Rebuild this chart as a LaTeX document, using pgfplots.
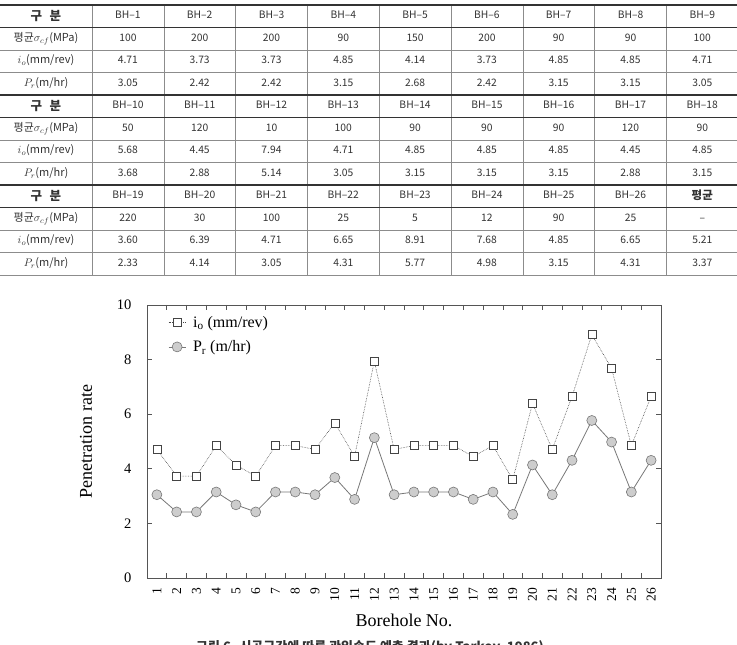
\documentclass[border=0pt]{standalone}
\usepackage{pgfplots}
\pgfplotsset{compat=1.18}
\usepackage{fontspec}
\setmainfont{Liberation Serif}
\newfontfamily\kr{Noto Sans CJK KR}
\definecolor{tabline}{HTML}{8C8C8C}
\definecolor{tabrule}{HTML}{333333}
\definecolor{tabtext}{HTML}{333333}
\definecolor{framecol}{HTML}{555555}
\definecolor{sqedge}{HTML}{444444}
\definecolor{circfill}{HTML}{CDCDCD}
\definecolor{circedge}{HTML}{777777}

\tikzset{cell/.style={text=tabtext, text height=8pt, text depth=2.5pt, inner sep=0pt}}

% one table row: #1 row index (0 = top), #2 label, #3 nine cell entries
\newcommand{\tabrow}[3]{%
  \node[cell, font=\kr\fontsize{11}{13}\selectfont] at (46pt,{(640-22.5*(#1+0.5))*1pt}) {#2};
  \foreach \v [count=\j] in {#3} {
    \node[cell, font=\kr\fontsize{10.3}{12}\selectfont] at ({(92+71.8*\j-35.9)*1pt},{(640-22.5*(#1+0.5))*1pt}) {\v};
  }%
}
\newcommand{\hd}{\raisebox{-1.2pt}{\fontsize{12.5}{13}\selectfont\bfseries 구\hspace{0.6em}분}}

\begin{document}
\begin{tikzpicture}
\useasboundingbox (0pt,0pt) rectangle (737pt,645pt);

% ---- table grid ----
\foreach \m in {0,...,8}
  \draw[tabline, line width=0.5pt] ({(92+71.8*\m)*1pt},640pt) -- ({(92+71.8*\m)*1pt},370pt);
\foreach \k in {2,3,6,7,10,11,12}
  \draw[tabline, line width=0.5pt] (0pt,{(640-22.5*\k)*1pt}) -- (737pt,{(640-22.5*\k)*1pt});
\foreach \k in {0,1,4,5,8,9}
  \draw[tabrule, line width=1.3pt] (0pt,{(640-22.5*\k)*1pt}) -- (737pt,{(640-22.5*\k)*1pt});

% ---- table text ----
\tabrow{0}{\hd}{BH–1,BH–2,BH–3,BH–4,BH–5,BH–6,BH–7,BH–8,BH–9}
\tabrow{1}{평균$\sigma_{cf}$(MPa)}{100,200,200,90,150,200,90,90,100}
\tabrow{2}{$i_o$(mm/rev)}{4.71,3.73,3.73,4.85,4.14,3.73,4.85,4.85,4.71}
\tabrow{3}{$P_r$(m/hr)}{3.05,2.42,2.42,3.15,2.68,2.42,3.15,3.15,3.05}
\tabrow{4}{\hd}{BH–10,BH–11,BH–12,BH–13,BH–14,BH–15,BH–16,BH–17,BH–18}
\tabrow{5}{평균$\sigma_{cf}$(MPa)}{50,120,10,100,90,90,90,120,90}
\tabrow{6}{$i_o$(mm/rev)}{5.68,4.45,7.94,4.71,4.85,4.85,4.85,4.45,4.85}
\tabrow{7}{$P_r$(m/hr)}{3.68,2.88,5.14,3.05,3.15,3.15,3.15,2.88,3.15}
\tabrow{8}{\hd}{BH–19,BH–20,BH–21,BH–22,BH–23,BH–24,BH–25,BH–26,{\raisebox{-0.8pt}{\fontsize{11.5}{13}\selectfont\bfseries 평균}}}
\tabrow{9}{평균$\sigma_{cf}$(MPa)}{220,30,100,25,5,12,90,25,–}
\tabrow{10}{$i_o$(mm/rev)}{3.60,6.39,4.71,6.65,8.91,7.68,4.85,6.65,5.21}
\tabrow{11}{$P_r$(m/hr)}{2.33,4.14,3.05,4.31,5.77,4.98,3.15,4.31,3.37}

% ---- chart ----
\begin{axis}[
  at={(147pt,67pt)}, anchor=south west,
  scale only axis, width=514pt, height=273pt,
  xmin=0.5, xmax=26.5, ymin=0, ymax=10,
  xtick={1,...,26},
  minor xtick={1.5,2.5,...,25.5},
  major x tick style={draw=none},
  ytick={0,2,...,10},
  tick align=inside,
  axis line style={framecol, line width=0.8pt},
  every tick/.style={framecol, line width=0.6pt},
  major tick length=5pt, minor tick length=5pt,
  /pgf/number format/assume math mode=true,
  xticklabel style={rotate=90, anchor=east, font=\fontsize{13.5}{13.5}\selectfont},
  xticklabel shift=6pt,
  yticklabel style={font=\fontsize{14.5}{14.5}\selectfont, xshift=-12pt},
  xlabel={Borehole No.},
  ylabel={Penetration rate},
  label style={font=\fontsize{18}{18}\selectfont},
  xlabel style={yshift=-6pt},
  ylabel style={yshift=18pt},
  legend style={at={(0.035,0.975)}, anchor=north west, draw=none, fill=none,
    font=\fontsize{16}{16}\selectfont, row sep=8pt,
    /tikz/every odd column/.append style={column sep=5pt}},
  legend cell align=left,
]
\addplot[sqedge, line width=0.6pt, densely dotted,
  mark=square*, mark size=4pt,
  mark options={solid, fill=white, draw=sqedge, line width=0.6pt}]
  coordinates {(1,4.71)(2,3.73)(3,3.73)(4,4.85)(5,4.14)(6,3.73)(7,4.85)(8,4.85)(9,4.71)
  (10,5.68)(11,4.45)(12,7.94)(13,4.71)(14,4.85)(15,4.85)(16,4.85)(17,4.45)(18,4.85)
  (19,3.60)(20,6.39)(21,4.71)(22,6.65)(23,8.91)(24,7.68)(25,4.85)(26,6.65)};
\addlegendentry{i\textsubscript{o} (mm/rev)}
\addplot[circedge, line width=0.8pt,
  mark=*, mark size=5pt,
  mark options={fill=circfill, draw=circedge, line width=0.6pt}]
  coordinates {(1,3.05)(2,2.42)(3,2.42)(4,3.15)(5,2.68)(6,2.42)(7,3.15)(8,3.15)(9,3.05)
  (10,3.68)(11,2.88)(12,5.14)(13,3.05)(14,3.15)(15,3.15)(16,3.15)(17,2.88)(18,3.15)
  (19,2.33)(20,4.14)(21,3.05)(22,4.31)(23,5.77)(24,4.98)(25,3.15)(26,4.31)};
\addlegendentry{P\textsubscript{r} (m/hr)}
\end{axis}

% ---- caption (cut by the page edge) ----
\node[font=\kr\bfseries\fontsize{13}{13}\selectfont, text=tabtext] at (370pt,-2pt)
  {그림 6. 시공구간에 따른 관입속도 예측 결과(by Tarkoy, 1986)};
\end{tikzpicture}
\end{document}
